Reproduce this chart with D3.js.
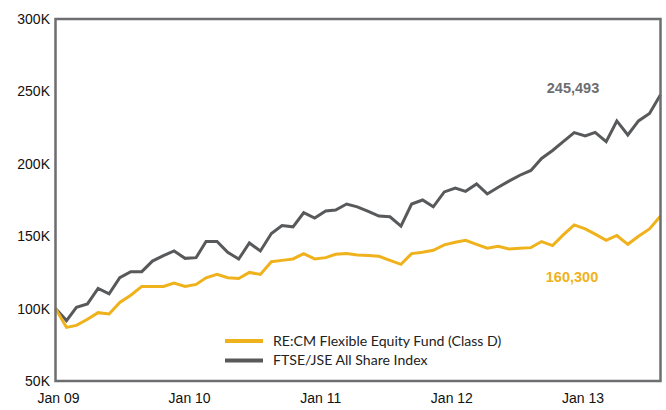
<!DOCTYPE html>
<html><head><meta charset="utf-8">
<script src="https://cdnjs.cloudflare.com/ajax/libs/d3/7.8.5/d3.min.js"></script>
<style>body{margin:0;background:#fff}svg{display:block}</style>
</head><body><svg id="c" width="666" height="410"></svg>
<script>
// Monthly values (thousands), Jan 2009 .. Sep 2013
const fund = [100,87.0,88.4,92.6,97.2,96.3,104.2,109.2,115.3,115.3,115.3,117.6,
  115.3,116.7,121.3,123.6,121.3,120.8,125,123.6,132.4,133.3,134.3,138,
  134.3,135.2,137.5,138,137,136.6,136.1,133.3,130.6,138,138.9,140.3,
  144,145.8,147.2,144.4,141.7,143.1,141.2,141.7,142.1,146.3,143.5,150.9,
  157.8,155,151.4,147.2,150.5,144.4,150,155,163.9];
const index = [100,91.7,100.9,103.2,113.9,110.2,121.3,125.5,125.5,132.8,136.6,139.8,
  134.7,135.2,146.3,146.3,138.9,134.2,145.3,139.8,151.9,157.4,156.5,166.2,
  162.5,167.4,168.1,172.2,170.3,167.2,163.9,163.4,156.9,172.2,175,170.3,
  180.6,183.3,181,186.1,179.2,183.8,188,192.1,195.4,203.7,209.2,215.3,
  221.5,219.2,221.7,215.3,229.6,219.9,229.6,234.7,247.7];
const seriesNames = ["RE:CM Flexible Equity Fund (Class D)", "FTSE/JSE All Share Index"];
const yTicks = [50,100,150,200,250,300];
const xTickYears = [2009,2010,2011,2012,2013];
const xTickLabels = ["Jan 09","Jan 10","Jan 11","Jan 12","Jan 13"];
const endLabels = ["160,300","245,493"];

const colors = ["#EFB21C","#58595B"];
const frameColor = "#6D6E71";
const L=55.5, R=660.5, T=19, B=381;
const svg = d3.select("#c");
const months = fund.map((_, i) => new Date(2009, i, 1));
const x = d3.scaleTime().domain([months[0], months[months.length-1]]).range([L, R]);
const xl = d3.scaleLinear().domain([2009, 2013]).range([58.5, 583]);
const y = d3.scaleLinear().domain([50, 300]).range([B, T]);

// Y labels
svg.append("g").selectAll("text").data(yTicks).join("text")
  .attr("x", 50).attr("y", d => y(d)).attr("dy", "0.36em")
  .attr("text-anchor", "end")
  .style("font-family", "'Liberation Sans', Arial, sans-serif").style("font-size", "14px").attr("fill", "#111")
  .text(d => d + "K");
// X labels
svg.append("g").selectAll("text").data(xTickYears).join("text")
  .attr("x", (d) => xl(d)).attr("y", 403)
  .attr("text-anchor", "middle")
  .style("font-family", "'Liberation Sans', Arial, sans-serif").style("font-size", "14px").attr("fill", "#111")
  .text((d, i) => xTickLabels[i]);

const line = d3.line().x((d, i) => x(months[i])).y(d => y(d));
[index, fund].forEach((s, k) => {
  svg.append("path").datum(s).attr("d", line)
    .attr("fill", "none").attr("stroke", colors[k === 0 ? 1 : 0])
    .attr("stroke-width", 3).attr("stroke-linejoin", "miter");
});

// Frame
svg.append("rect").attr("x", L).attr("y", T).attr("width", R - L).attr("height", B - T)
  .attr("fill", "none").attr("stroke", frameColor).attr("stroke-width", 2.5);

// End value labels
svg.append("text").attr("x", 573).attr("y", 88).attr("dy", "0.36em").attr("text-anchor", "middle")
  .style("font-family", "'Liberation Sans', Arial, sans-serif").style("font-size", "14.5px").style("font-weight", "bold")
  .attr("fill", "#6D6E71").text(endLabels[1]);
svg.append("text").attr("x", 572).attr("y", 277).attr("dy", "0.36em").attr("text-anchor", "middle")
  .style("font-family", "'Liberation Sans', Arial, sans-serif").style("font-size", "14.5px").style("font-weight", "bold")
  .attr("fill", colors[0]).text(endLabels[0]);

// Legend
const lg = svg.append("g");
seriesNames.forEach((n, i) => {
  const yy = 341 + i * 19.5;
  lg.append("line").attr("x1", 225).attr("x2", 263).attr("y1", yy).attr("y2", yy)
    .attr("stroke", colors[i]).attr("stroke-width", 4);
  lg.append("text").attr("x", 273).attr("y", yy).attr("dy", "0.35em")
    .style("font-family", "Lato, sans-serif").style("font-size", "14.1px").attr("fill", "#222").text(n);
});
</script></body></html>
